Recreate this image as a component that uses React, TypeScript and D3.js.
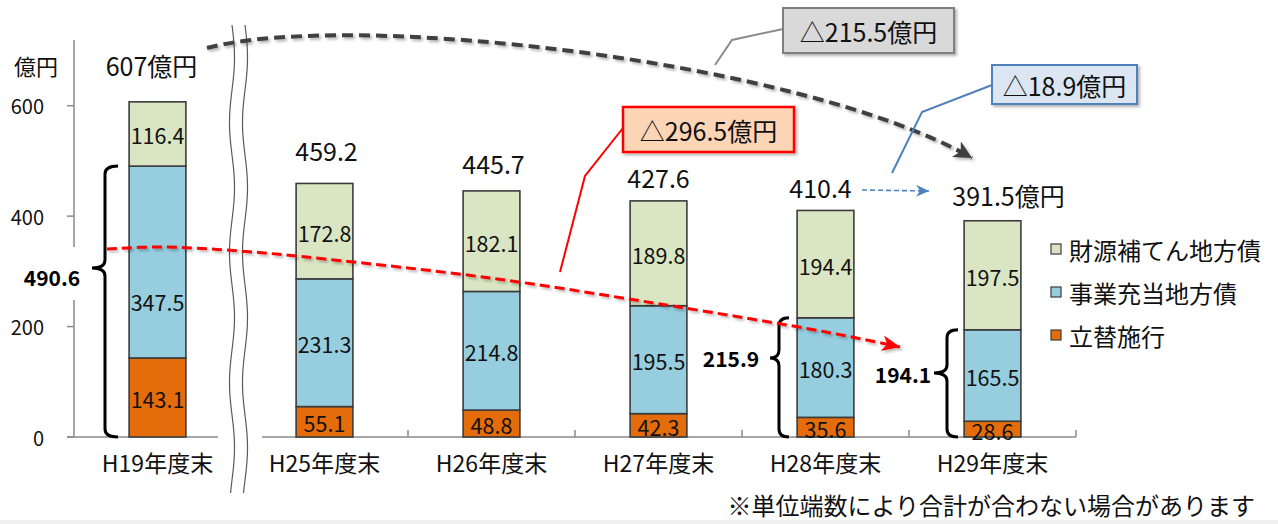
import React from "react";
import * as d3 from "d3";

// ---------- data ----------
const categories = ["H19年度末", "H25年度末", "H26年度末", "H27年度末", "H28年度末", "H29年度末"];
const seriesKeys = ["tatekae", "jigyou", "zaigen"];
const seriesNames = ["立替施行", "事業充当地方債", "財源補てん地方債"];
const tatekae = [143.1, 55.1, 48.8, 42.3, 35.6, 28.6];
const jigyou = [347.5, 231.3, 214.8, 195.5, 180.3, 165.5];
const zaigen = [116.4, 172.8, 182.1, 189.8, 194.4, 197.5];
const totals = [607, 459.2, 445.7, 427.6, 410.4, 391.5];
const totalSuffix = ["億円", "", "", "", "", "億円"];
const yTicks = [0, 200, 400, 600];
const braceIndices = [0, 4, 5];
const calloutTexts = ["△215.5億円", "△296.5億円", "△18.9億円"];
const unitLabel = "億円";
const noteText = "※単位端数により合計が合わない場合があります";

// ---------- style / layout ----------
const FONT = "'Noto Sans CJK JP', 'Noto Sans', sans-serif";
const colors: Record<string, string> = { tatekae: "#E46C0A", jigyou: "#96CEDF", zaigen: "#DAE6C3" };
const AXIS = "#8A8A8A";
const totalLift = [37, 33, 28, 24, 23, 26];
const totalDx = [-6, 2, 2, 0, -5, 16];
const segShift: Record<string, number> = { "0-1": 38 };
const braceLayout = [
  { xr: 118, xs: 105, xt: 92, yt: 268, lx: 52, ly: 277 },
  { xr: 789, xs: 779, xt: 770, yt: 358, lx: 731, ly: 358 },
  { xr: 958, xs: 947, xt: 934, yt: 373, lx: 903, ly: 374 },
];

function bracePath(xr: number, xs: number, xt: number, y1: number, y2: number, yt: number) {
  const r = 8;
  return [
    `M${xr},${y1}`,
    `Q${xs},${y1} ${xs},${y1 + r}`,
    `L${xs},${yt - r}`,
    `Q${xs},${yt} ${xt},${yt}`,
    `Q${xs},${yt} ${xs},${yt + r}`,
    `L${xs},${y2 - r}`,
    `Q${xs},${y2} ${xr},${y2}`,
  ].join(" ");
}

function wavy(x0: number, yA: number, yB: number, phase: number) {
  const pts: [number, number][] = [];
  for (let yy = yA; yy <= yB; yy += 2) {
    pts.push([x0 + 2.5 * Math.sin(((yy - yA) / 130) * 2 * Math.PI + phase), yy]);
  }
  return d3.line()(pts) as string;
}

export default function App() {
  const W = 1278, H = 524;
  const x = d3.scaleBand<string>().domain(categories).range([74, 1076]).paddingInner(0.66).paddingOuter(0.33);
  const y = d3.scaleLinear().domain([0, 600]).range([437, 105.7]);
  const bw = x.bandwidth();

  const rows = categories.map((c, i) => ({ cat: c, tatekae: tatekae[i], jigyou: jigyou[i], zaigen: zaigen[i] }));
  const stacked = d3.stack<any>().keys(seriesKeys)(rows);

  const step = x.step();
  const boundaries = categories.map((c) => (x(c) as number) - step * 0.33).concat([(x(categories[5]) as number) + bw + step * 0.33]);

  // annotation curves
  const curve = d3.line().curve(d3.curveCatmullRom.alpha(0.5));
  const redPath = curve([[107, 249], [160, 247], [240, 251], [325, 259], [490, 278], [660, 304], [826, 332], [900, 347]]) as string;
  const grayPath = "M207,48 C350,10 800,60 972,158";

  return (
    <svg width={W} height={H} style={{ position: "absolute", left: 0, top: 0, background: "#fff" }} fontFamily={FONT}>
      <defs>
        <filter id="sh" x="-20%" y="-20%" width="140%" height="160%">
          <feDropShadow dx="2" dy="2" stdDeviation="1.5" floodColor="#000" floodOpacity="0.3" />
        </filter>
        <marker id="arRed" markerUnits="userSpaceOnUse" markerWidth="22" markerHeight="18" refX="18" refY="8" orient="auto">
          <path d="M0,0 L18,8 L0,16 L5,8 Z" fill="#FF0000" />
        </marker>
        <marker id="arGray" markerUnits="userSpaceOnUse" markerWidth="22" markerHeight="20" refX="18" refY="9" orient="auto">
          <path d="M0,0 L18,9 L0,18 L5,9 Z" fill="#404040" />
        </marker>
        <marker id="arBlue" markerUnits="userSpaceOnUse" markerWidth="16" markerHeight="14" refX="13" refY="6" orient="auto">
          <path d="M0,0 L13,6 L0,12 L4,6 Z" fill="#4F81BD" />
        </marker>
      </defs>
      <rect x={0} y={520} width={W} height={4} fill="#F0F0F0" />

      {/* y axis */}
      <line x1={74} x2={74} y1={y(0)} y2={40} stroke={AXIS} strokeWidth={1.5} />
      {yTicks.map((t) => (
        <g key={t}>
          <line x1={67} x2={74} y1={y(t)} y2={y(t)} stroke={AXIS} strokeWidth={1.5} />
          <text x={44} y={y(t)} textAnchor="end" dominantBaseline="central" fontSize={20} fill="#111">{t}</text>
        </g>
      ))}
      <text x={36} y={65} textAnchor="middle" dominantBaseline="central" fontSize={22} fill="#111">{unitLabel}</text>

      {/* x axis */}
      <line x1={67} x2={boundaries[6]} y1={y(0)} y2={y(0)} stroke={AXIS} strokeWidth={1.5} />
      {boundaries.slice(2).map((b, i) => (
        <line key={i} x1={b} x2={b} y1={y(0) - 7} y2={y(0)} stroke={AXIS} strokeWidth={1.5} />
      ))}
      {categories.map((c) => (
        <text key={c} x={(x(c) as number) + bw / 2} y={462} textAnchor="middle" dominantBaseline="central" fontSize={23} fill="#111">{c}</text>
      ))}

      {/* bars */}
      {stacked.map((s) => (
        <g key={s.key}>
          {s.map((d, i) => (
            <rect key={i} x={x(categories[i])} y={y(d[1])} width={bw} height={y(d[0]) - y(d[1])}
              fill={colors[s.key]} stroke="#3C3C3C" strokeWidth={1.6} />
          ))}
        </g>
      ))}
      {stacked.map((s, si) => (
        <g key={"l" + s.key}>
          {s.map((d, i) => (
            <text key={i} x={(x(categories[i]) as number) + bw / 2}
              y={(y(d[0]) + y(d[1])) / 2 + (segShift[`${i}-${si}`] || 0) + 1}
              textAnchor="middle" dominantBaseline="central" fontSize={21.5} fill="#111">
              {(d[1] - d[0]).toFixed(1)}
            </text>
          ))}
        </g>
      ))}

      {/* totals */}
      {totals.map((t, i) => (
        <text key={i} x={(x(categories[i]) as number) + bw / 2 + totalDx[i]} y={y(t) - totalLift[i]}
          textAnchor="middle" dominantBaseline="central" fontSize={25} fill="#111">
          {(Number.isInteger(t) ? String(t) : t.toFixed(1)) + totalSuffix[i]}
        </text>
      ))}

      {/* white label patch over axis for 490.6 */}
      <rect x={20} y={247} width={64} height={53} fill="#fff" />

      {/* braces */}
      {braceIndices.map((idx, k) => {
        const sub = tatekae[idx] + jigyou[idx];
        const L = braceLayout[k];
        return (
          <g key={idx}>
            <path d={bracePath(L.xr, L.xs, L.xt, y(sub), y(0), L.yt)} fill="none" stroke="#000" strokeWidth={3} />
            <text x={L.lx} y={L.ly} textAnchor="middle" dominantBaseline="central" fontSize={21} fontWeight="bold" fill="#000">
              {sub.toFixed(1)}
            </text>
          </g>
        );
      })}

      {/* axis break */}
      <rect x={218} y={428} width={44} height={18} fill="#fff" />
      <path d={wavy(232, 25, 493, 0)} fill="none" stroke="#5A5A5A" strokeWidth={1.2} />
      <path d={wavy(245, 25, 493, 0)} fill="none" stroke="#5A5A5A" strokeWidth={1.2} />

      {/* red dashed trend */}
      <path d={redPath} fill="none" stroke="#FF0000" strokeWidth={3} strokeDasharray="10 5" markerEnd="url(#arRed)" filter="url(#sh)" />
      {/* gray dashed trend */}
      <path d={grayPath} fill="none" stroke="#404040" strokeWidth={4} strokeDasharray="11 6" markerEnd="url(#arGray)" filter="url(#sh)" />
      {/* blue dashed */}
      <line x1={862} y1={190} x2={929} y2={191} stroke="#4F81BD" strokeWidth={1.6} strokeDasharray="5 3" markerEnd="url(#arBlue)" />

      {/* callouts */}
      <polyline points="783,29 732,40 715,65" fill="none" stroke="#8C8C8C" strokeWidth={2} />
      <rect x={783} y={8} width={171} height={45} fill="#D9D9D9" stroke="#7F7F7F" strokeWidth={2} filter="url(#sh)" />
      <text x={868.5} y={31} textAnchor="middle" dominantBaseline="central" fontSize={25} fill="#111">{calloutTexts[0]}</text>

      <polyline points="623,128 585,176 560,272" fill="none" stroke="#FF0000" strokeWidth={2} />
      <rect x={623} y={107} width={171} height={45} fill="#FBD5B5" stroke="#FF0000" strokeWidth={2.5} filter="url(#sh)" />
      <text x={708.5} y={130} textAnchor="middle" dominantBaseline="central" fontSize={25} fill="#111">{calloutTexts[1]}</text>

      <polyline points="992,85 922,112 892,173" fill="none" stroke="#4F81BD" strokeWidth={2} />
      <rect x={992} y={65} width={145} height={39} fill="#DCE6F2" stroke="#4F81BD" strokeWidth={2} filter="url(#sh)" />
      <text x={1064.5} y={85} textAnchor="middle" dominantBaseline="central" fontSize={25} fill="#111">{calloutTexts[2]}</text>

      {/* legend */}
      {[2, 1, 0].map((si, k) => (
        <g key={si} transform={`translate(1051, ${249 + k * 43})`}>
          <rect x={0} y={-5} width={10} height={10} fill={colors[seriesKeys[si]]} stroke="#3C3C3C" strokeWidth={1.2} />
          <text x={18} y={0} dominantBaseline="central" fontSize={24} fill="#111">{seriesNames[si]}</text>
        </g>
      ))}

      <text x={1255} y={504} textAnchor="end" dominantBaseline="central" fontSize={24} fill="#111">{noteText}</text>
    </svg>
  );
}
